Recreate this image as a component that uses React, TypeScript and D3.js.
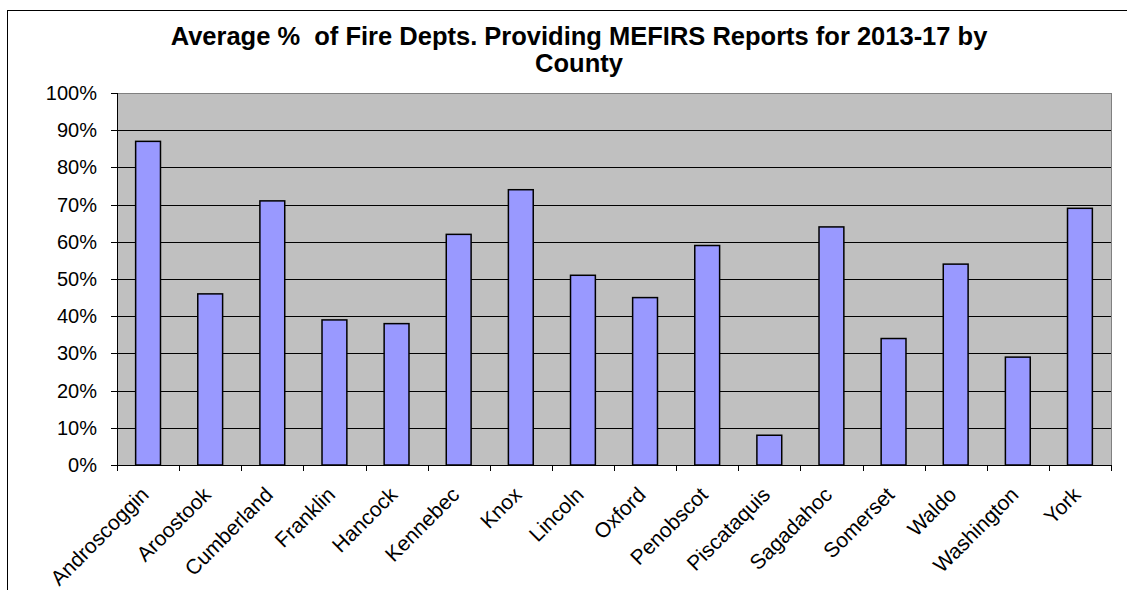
import React from "react";
import * as d3 from "d3";

const counties = ["Androscoggin","Aroostook","Cumberland","Franklin","Hancock","Kennebec","Knox","Lincoln","Oxford","Penobscot","Piscataquis","Sagadahoc","Somerset","Waldo","Washington","York"];
const avgPct = [87,46,71,39,38,62,74,51,45,59,8,64,34,54,29,69];
const yTicks = [0,10,20,30,40,50,60,70,80,90,100];
const titleLines = ["Average %  of Fire Depts. Providing MEFIRS Reports for 2013-17 by", "County"];

export default function App() {
  const W = 1127, H = 590;
  const left = 117, right = 1111, top = 93, bottom = 465;
  const x = d3.scaleBand<string>().domain(counties).range([left, right]).paddingInner(0.6).paddingOuter(0.3);
  const band = d3.scaleBand<string>().domain(counties).range([left, right]);
  const y = d3.scaleLinear().domain([0, 100]).range([bottom, top]);
  const font = "'Liberation Sans', Arial, sans-serif";
  return (
    <svg width={W} height={H} style={{ position: "absolute", left: 0, top: 0, background: "#fff" }} fontFamily={font}>
      <rect x={7.5} y={10.5} width={1130} height={600} fill="#fff" stroke="#000" strokeWidth={1} />
      {titleLines.map((t, i) => (
        <text key={i} x={579} y={45 + i * 27} textAnchor="middle" fontSize={25.5} fontWeight="bold" style={{ whiteSpace: "pre" }}>{t}</text>
      ))}
      <rect x={left} y={top} width={right - left} height={bottom - top} fill="#C0C0C0" />
      <line x1={left} x2={right} y1={top + 0.5} y2={top + 0.5} stroke="#808080" />
      <line x1={right + 0.5} x2={right + 0.5} y1={top} y2={bottom} stroke="#808080" />
      {yTicks.filter(v => v > 0 && v < 100).map(v => (
        <line key={v} x1={left} x2={right} y1={Math.round(y(v)) + 0.5} y2={Math.round(y(v)) + 0.5} stroke="#000" />
      ))}
      {counties.map((c, i) => (
        <rect key={c} x={x(c)!} y={y(avgPct[i])} width={x.bandwidth()} height={bottom - y(avgPct[i])} fill="#9999FF" stroke="#000" strokeWidth={1.5} />
      ))}
      <line x1={left + 0.5} x2={left + 0.5} y1={top} y2={bottom} stroke="#000" />
      <line x1={left} x2={right + 1} y1={bottom + 0.5} y2={bottom + 0.5} stroke="#000" />
      {yTicks.map(v => (
        <g key={v}>
          <line x1={left - 6} x2={left} y1={Math.round(y(v)) + 0.5} y2={Math.round(y(v)) + 0.5} stroke="#000" />
          <text x={97} y={y(v)} dy="0.35em" textAnchor="end" fontSize={20}>{v}%</text>
        </g>
      ))}
      {[...counties.map(c => band(c)!), right].map((bx, i) => (
        <line key={i} x1={Math.round(bx) + 0.5} x2={Math.round(bx) + 0.5} y1={bottom} y2={bottom + 6} stroke="#000" />
      ))}
      {counties.map(c => {
        const cx = band(c)! + band.bandwidth() / 2 + 2;
        const cy = bottom + 31;
        return (
          <text key={c} x={cx} y={cy} textAnchor="end" fontSize={21} transform={`rotate(-45 ${cx} ${cy})`}>{c}</text>
        );
      })}
    </svg>
  );
}
